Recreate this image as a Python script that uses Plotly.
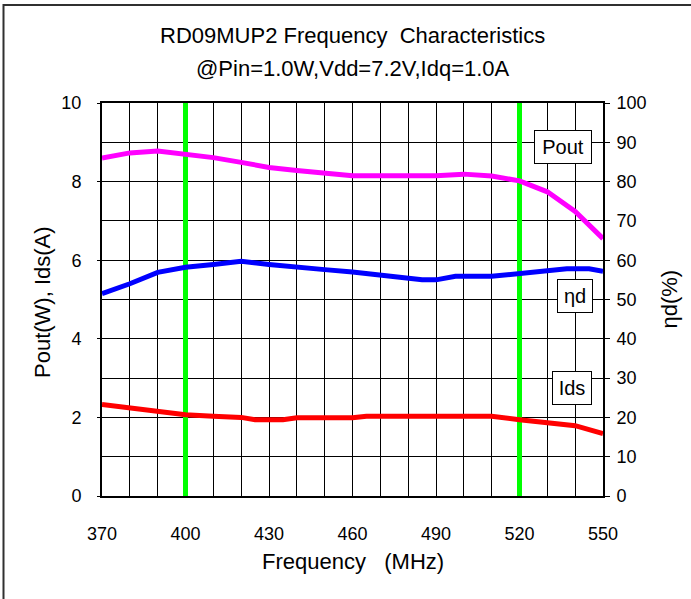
import plotly.graph_objects as go

# ---- data ----
pout_freq = [370, 380, 390, 400, 410, 420, 430, 440, 450, 460, 470, 480, 490, 500, 510, 520, 530, 540, 550]
pout_w = [8.60, 8.73, 8.78, 8.71, 8.61, 8.49, 8.36, 8.28, 8.20, 8.15, 8.15, 8.15, 8.15, 8.19, 8.14, 8.02, 7.74, 7.24, 6.55]

ids_freq = [370, 380, 390, 400, 410, 420, 425, 435, 440, 450, 460, 465, 470, 480, 490, 500, 510, 520, 530, 540, 550]
ids_a = [2.33, 2.24, 2.16, 2.07, 2.03, 2.00, 1.94, 1.94, 1.99, 1.99, 1.99, 2.03, 2.03, 2.03, 2.03, 2.03, 2.03, 1.94, 1.86, 1.79, 1.59]

eff_freq = [370, 380, 390, 400, 410, 420, 430, 440, 450, 460, 470, 480, 485, 490, 497, 510, 520, 530, 537, 545, 550]
eff_pct = [51.5, 54.0, 56.9, 58.2, 58.9, 59.7, 58.9, 58.4, 57.6, 57.0, 56.1, 55.5, 55.0, 55.0, 55.9, 55.9, 56.7, 57.2, 57.8, 57.8, 57.2]

marker_freqs = [400, 520]
x_ticks = [370, 400, 430, 460, 490, 520, 550]
left_ticks = [0, 2, 4, 6, 8, 10]
right_ticks = [0, 10, 20, 30, 40, 50, 60, 70, 80, 90, 100]

title1 = "RD09MUP2 Frequency  Characteristics"
title2 = "@Pin=1.0W,Vdd=7.2V,Idq=1.0A"

FONT = "Liberation Sans, Arial, sans-serif"

fig = go.Figure()

# green marker lines
for f in marker_freqs:
    fig.add_trace(go.Scatter(x=[f, f], y=[0, 10], mode="lines",
                             line=dict(color="#00FF00", width=5), showlegend=False, hoverinfo="skip"))

fig.add_trace(go.Scatter(x=pout_freq, y=pout_w, mode="lines", name="Pout",
                         line=dict(color="#FF00FF", width=5), showlegend=False))
fig.add_trace(go.Scatter(x=eff_freq, y=eff_pct, mode="lines", name="ηd", yaxis="y2",
                         line=dict(color="#0000FF", width=5), showlegend=False))
fig.add_trace(go.Scatter(x=ids_freq, y=ids_a, mode="lines", name="Ids",
                         line=dict(color="#FF0000", width=5), showlegend=False))

fig.update_layout(
    width=691, height=599,
    margin=dict(l=102, r=88, t=103, b=103),
    paper_bgcolor="white", plot_bgcolor="white",
    font=dict(family=FONT, color="black", size=18),
    xaxis=dict(range=[370, 550], tickvals=x_ticks, ticktext=[str(v) for v in x_ticks],
               showgrid=True, gridcolor="black", gridwidth=1,
               minor=dict(dtick=10, tick0=370, showgrid=True, gridcolor="black", gridwidth=1),
               showline=True, linecolor="black", linewidth=2, mirror=True,
               ticks="", ticklabelstandoff=20, tickfont=dict(size=18), zeroline=False),
    yaxis=dict(range=[0, 10], tickvals=left_ticks, showgrid=True, gridcolor="black", gridwidth=1,
               minor=dict(dtick=1, tick0=0, showgrid=True, gridcolor="black", gridwidth=1),
               showline=True, linecolor="black", linewidth=2, mirror=True,
               ticks="outside", ticklen=3, tickcolor="black",
               ticklabelstandoff=12, tickfont=dict(size=18), zeroline=False),
    yaxis2=dict(range=[0, 100], tickvals=right_ticks, overlaying="y", side="right",
                showgrid=False, showline=False, ticks="outside", ticklen=6, tickcolor="black",
                ticklabelstandoff=3, tickfont=dict(size=18), zeroline=False),
)

# titles
fig.add_annotation(text=title1, x=0.5, y=(496 - 35) / 393, xref="paper", yref="paper",
                   showarrow=False, font=dict(size=22), xanchor="center", yanchor="middle")
fig.add_annotation(text=title2, x=0.5, y=(496 - 68) / 393, xref="paper", yref="paper",
                   showarrow=False, font=dict(size=22), xanchor="center", yanchor="middle")
fig.add_annotation(text="Frequency   (MHz)", x=0.5, y=(496 - 561) / 393, xref="paper", yref="paper",
                   showarrow=False, font=dict(size=22), xanchor="center", yanchor="middle")
fig.add_annotation(text="Pout(W), Ids(A)", x=(42 - 102) / 501, y=(496 - 302) / 393, xref="paper", yref="paper",
                   showarrow=False, font=dict(size=22), textangle=-90, xanchor="center", yanchor="middle")
fig.add_annotation(text="ηd(%)", x=(669 - 102) / 501, y=0.5, xref="paper", yref="paper",
                   showarrow=False, font=dict(size=22), textangle=-90, xanchor="center", yanchor="middle")

# series label boxes
for txt, xx, yy, w in [("Pout", 535.8, 8.87, 56), ("ηd", 540.0, 5.08, 34), ("Ids", 539.0, 2.75, 38)]:
    fig.add_annotation(text=txt, x=xx, y=yy, xref="x", yref="y", showarrow=False,
                       font=dict(size=20), bgcolor="white", bordercolor="black", borderwidth=1,
                       borderpad=0, width=w, height=32, xanchor="center", yanchor="middle")

# outer frame (top and left edges)
fig.add_shape(type="line", xref="paper", yref="paper",
              x0=(3 - 102) / 501, x1=(691 - 102) / 501, y0=(496 - 5) / 393, y1=(496 - 5) / 393,
              line=dict(color="#303030", width=2))
fig.add_shape(type="line", xref="paper", yref="paper",
              x0=(3.5 - 102) / 501, x1=(3.5 - 102) / 501, y0=(496 - 4) / 393, y1=(496 - 599) / 393,
              line=dict(color="#303030", width=2))

fig.write_html("out.html", config={"displayModeBar": False},
               post_script="document.body.style.margin='0';document.body.style.overflow='hidden';")
